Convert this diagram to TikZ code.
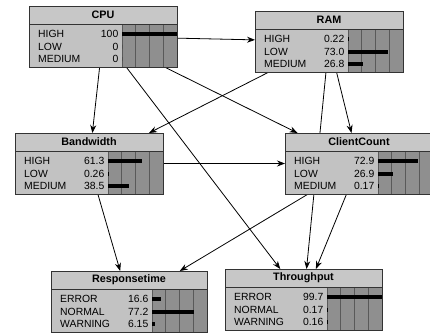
\documentclass[tikz,border=0pt]{standalone}
\usepackage{fontspec}
\setmainfont{Liberation Sans}
\usetikzlibrary{arrows.meta}
\pgfdeclarelayer{background}
\pgfsetlayers{background,main}

\definecolor{titlegray}{gray}{0.78}
\definecolor{bodygray}{gray}{0.76}
\definecolor{bargray}{gray}{0.56}

% box of the net: name, left, top, width, title, rows (label/value/percent)
\newcommand{\netbox}[6]{%
  \node[netnode, minimum width=#4pt, anchor=north west] (#1) at (#2,#3) {};
  \fill[titlegray] (#1.north west) rectangle ([yshift=-18pt]#1.north east);
  \fill[bargray] ({#2+#4-55},{#3+18}) rectangle (#1.south east);
  \foreach \k in {1,2,3}
    \draw[gridline] ({#2+#4-55+\k*13.75},{#3+18}) -- ({#2+#4-55+\k*13.75},{#3+61});
  \draw[gridline] ({#2+#4-55},{#3+18}) -- ({#2+#4-55},{#3+61});
  \draw[frame] ([yshift=-18pt]#1.north west) -- ([yshift=-18pt]#1.north east);
  \node[titletext] (#1-t) at ([yshift=-9pt]#1.north) {#5};
  \foreach \lab/\val/\pct [count=\i] in {#6} {
    \node[rowtext, anchor=west] (#1-l\i) at ({#2+9},{#3+28+(\i-1)*12.5}) {\lab};
    \node[rowtext, anchor=east] (#1-v\i) at ({#2+#4-58.5},{#3+28+(\i-1)*12.5}) {\val};
    \fill ({#2+#4-55},{#3+26+(\i-1)*12.5}) rectangle ++({0.55*\pct},4);
  }
  \draw[frame] (#1.north west) rectangle (#1.south east);
}

\begin{document}
\begin{tikzpicture}[x=1pt, y=-1pt, >={Stealth[length=8pt,width=6pt]},
  netnode/.style={fill=bodygray, minimum height=61pt, inner sep=0pt, outer sep=0pt},
  frame/.style={draw=black!80, line width=0.9pt},
  gridline/.style={draw=black!65, line width=0.6pt},
  titletext/.style={font=\bfseries\fontsize{10.8}{13}\selectfont, inner sep=0pt},
  rowtext/.style={font=\fontsize{10.4}{12}\selectfont, inner sep=0pt},
  link/.style={->, line width=0.8pt}]

\useasboundingbox (0,0) rectangle (430,333);

% Nodi della rete
\netbox{cpu}{29}{6}{148}{CPU}{HIGH/100/100, LOW/0/0, MEDIUM/0/0}
\netbox{ram}{255}{11}{148}{RAM}{HIGH/0.22/0.22, LOW/73.0/73.0, MEDIUM/26.8/26.8}
\netbox{bw}{15}{133}{148}{Bandwidth}{HIGH/61.3/61.3, LOW/0.26/0.26, MEDIUM/38.5/38.5}
\netbox{cc}{285}{133}{148}{ClientCount}{HIGH/72.9/72.9, LOW/26.9/26.9, MEDIUM/0.17/0.17}
\netbox{rt}{51}{271}{156}{Responsetime}{ERROR/16.6/16.6, NORMAL/77.2/77.2, WARNING/6.15/6.15}
\netbox{tp}{225}{269}{157}{Throughput}{ERROR/99.7/99.7, NORMAL/0.17/0.17, WARNING/0.16/0.16}

% Archi (sotto i nodi)
\begin{pgfonlayer}{background}
\draw[link] (cpu) -- (ram);
\draw[link] (cpu) -- (bw);
\draw[link] (cpu) -- (cc);
\draw[link] (cpu) -- (tp);
\draw[link] (ram) -- (bw);
\draw[link] (ram) -- (cc);
\draw[link] (ram) -- (tp);
\draw[link] (bw) -- (cc);
\draw[link] (bw) -- (rt);
\draw[link] (cc) -- (rt);
\draw[link] (cc) -- (tp);
\end{pgfonlayer}

\end{tikzpicture}
\end{document}
